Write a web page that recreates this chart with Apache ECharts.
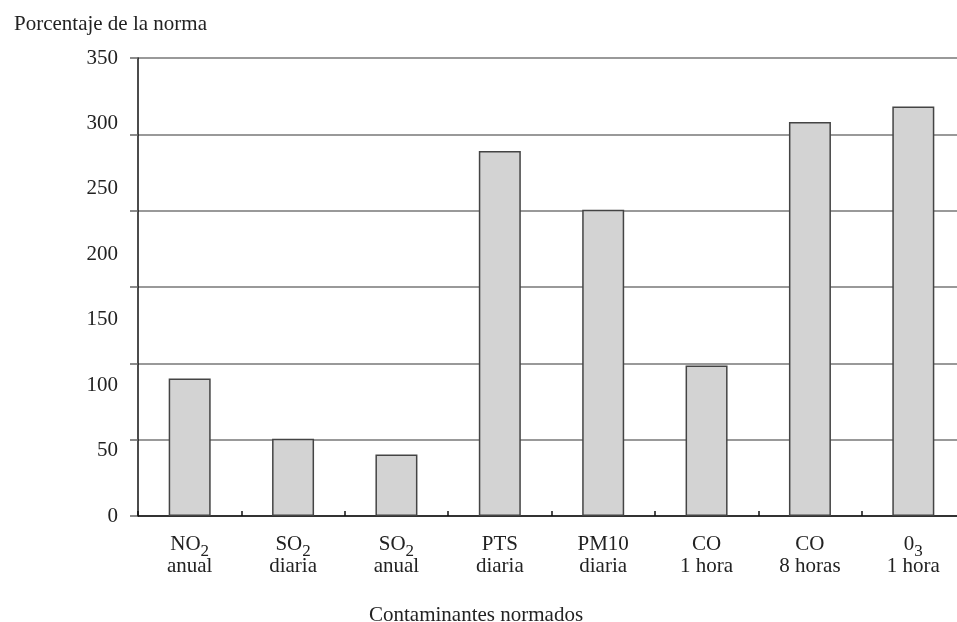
<!DOCTYPE html>
<html>
<head>
<meta charset="utf-8">
<script src="https://cdn.jsdelivr.net/npm/echarts@6/dist/echarts.min.js"></script>
<style>
html,body{margin:0;padding:0;background:#fff;overflow:hidden;width:957px;height:622px;}
#chart{width:965px;height:622px;}
</style>
</head>
<body>
<div id="chart"></div>
<script>
// Data
var catMain = ['NO', 'SO', 'SO', 'PTS', 'PM10', 'CO', 'CO', '0'];
var catSub = ['2', '2', '2', '', '', '', '', '3'];
var catLine2 = ['anual', 'diaria', 'anual', 'diaria', 'diaria', '1 hora', '8 horas', '1 hora'];
var values = [105, 59, 47, 279, 234, 115, 301, 313];
var yTicks = [0, 50, 100, 150, 200, 250, 300, 350];

var categories = catMain.map(function (m, i) {
  return '{a|' + m + '}' + (catSub[i] ? '{s|' + catSub[i] + '}' : '') + '\n{a|' + catLine2[i] + '}';
});

var FONT = '"Liberation Serif", "Times New Roman", serif';
var chart = echarts.init(document.getElementById('chart'), null, {renderer: 'canvas'});
chart.setOption({
  animation: false,
  backgroundColor: '#ffffff',
  title: {
    text: 'Porcentaje de la norma',
    left: 9,
    top: 9,
    textStyle: {fontFamily: FONT, fontSize: 21, fontWeight: 'normal', color: '#222'}
  },
  graphic: [{
    type: 'text',
    left: 369,
    top: 605,
    style: {text: 'Contaminantes normados', font: '21px ' + FONT, fill: '#222'}
  }],
  grid: {left: 138, top: 58, bottom: 106, right: 0, containLabel: false},
  xAxis: {
    type: 'category',
    data: categories,
    boundaryGap: true,
    axisLine: {lineStyle: {color: '#111', width: 1.5}},
    axisTick: {show: true, inside: true, length: 5, lineStyle: {color: '#111', width: 1.5}},
    axisLabel: {
      margin: 17,
      interval: 0,
      color: '#222',
      rich: {
        a: {fontFamily: FONT, fontSize: 21, lineHeight: 22, color: '#222'},
        s: {fontFamily: FONT, fontSize: 17, lineHeight: 22, padding: [15, 0, 0, 0], color: '#222'}
      }
    }
  },
  yAxis: [{
    type: 'value',
    min: 0,
    max: 350,
    interval: 50,
    data: yTicks,
    axisLine: {show: true, lineStyle: {color: '#111', width: 1.5}},
    axisTick: {show: false},
    splitLine: {show: false},
    axisLabel: {margin: 20, fontFamily: FONT, fontSize: 21, color: '#222'}
  }, {
    type: 'value',
    min: 0,
    max: 6,
    interval: 1,
    position: 'left',
    axisLine: {show: false},
    axisTick: {show: true, inside: false, length: 8, lineStyle: {color: '#666', width: 1.5}},
    axisLabel: {show: false},
    splitLine: {show: true, lineStyle: {color: '#777', width: 1.5}}
  }],
  series: [{
    type: 'bar',
    yAxisIndex: 0,
    data: values,
    barWidth: 42,
    itemStyle: {color: '#d3d3d3', borderColor: '#444', borderWidth: 1.5}
  }]
});
</script>
</body>
</html>
